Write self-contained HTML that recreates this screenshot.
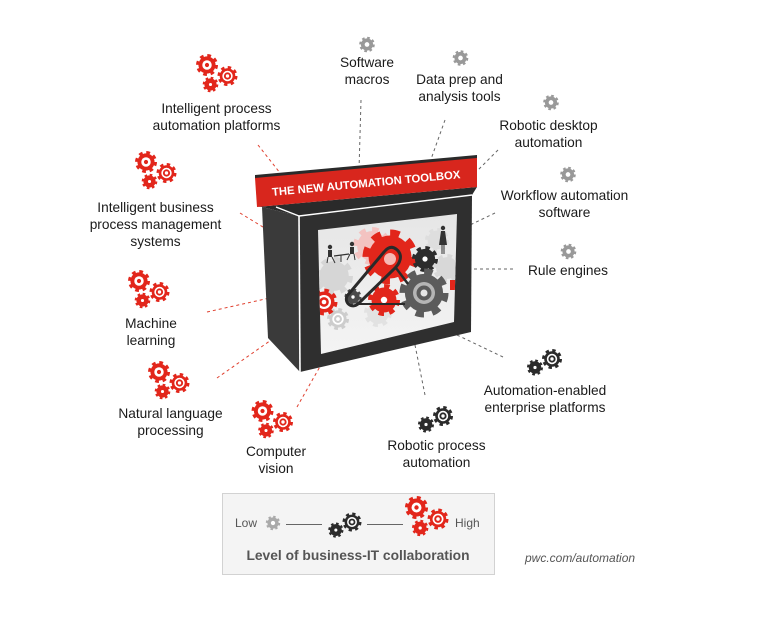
<!DOCTYPE html>
<html><head><meta charset="utf-8"><style>
html,body{margin:0;padding:0;background:#fff;}
#wrap{position:relative;width:758px;height:633px;overflow:hidden;background:#fff;font-family:"Liberation Sans",Arial,sans-serif;}
svg{position:absolute;left:0;top:0;}
.t{position:absolute;width:240px;text-align:center;font-size:13.7px;line-height:17px;color:#1a1a1a;white-space:nowrap;}
.s{position:absolute;font-size:12px;line-height:14px;color:#555;white-space:nowrap;}
</style></head><body><div id="wrap">
<svg width="758" height="633" viewBox="0 0 758 633" xmlns="http://www.w3.org/2000/svg">
<defs>
<g id="gb"><circle r="7.8" fill="currentColor"/><circle r="8.75" fill="none" stroke="currentColor" stroke-width="2.5" stroke-dasharray="3.44 3.43"/></g>
<g id="gDot"><use href="#gb"/><circle r="4.3" fill="#fff"/><circle r="1.9" fill="currentColor"/></g>
<g id="gRing"><use href="#gb"/><circle r="5.2" fill="#fff"/><circle r="3.6" fill="currentColor"/><circle r="1.7" fill="#fff"/></g>
<g id="gSolid"><use href="#gb"/><circle r="2" fill="#fff"/></g>
<g id="gGray"><use href="#gb"/><circle r="3" fill="#fff"/></g>
<g id="redc"><use href="#gDot" transform="scale(1.1)"/><use href="#gRing" transform="translate(20.5,11)"/><use href="#gSolid" transform="translate(3.5,19.5) scale(0.78)"/></g>
<g id="darkp"><use href="#gSolid" transform="translate(-17,8.5) scale(0.8)"/><use href="#gRing"/></g>
<clipPath id="scr"><polygon points="318,230 457,214 454,322 321,354"/></clipPath>
<linearGradient id="sg" x1="0" y1="0" x2="0" y2="1"><stop offset="0" stop-color="#e6e6e6"/><stop offset="1" stop-color="#f4f4f4"/></linearGradient>
</defs>

<!-- connectors red -->
<g stroke="#e0402f" stroke-width="1" stroke-dasharray="3 3" fill="none">
<line x1="258" y1="145" x2="284" y2="178"/>
<line x1="240" y1="213" x2="281" y2="238"/>
<line x1="207" y1="312" x2="283" y2="295"/>
<line x1="217" y1="378" x2="284" y2="331"/>
<line x1="297" y1="407" x2="322" y2="363"/>
</g>
<g stroke="#666" stroke-width="1" stroke-dasharray="3 3" fill="none">
<line x1="361" y1="100" x2="359" y2="170"/>
<line x1="445" y1="120" x2="430" y2="162"/>
<line x1="498" y1="150" x2="478" y2="170"/>
<line x1="495" y1="213" x2="470" y2="225"/>
<line x1="468" y1="269" x2="515" y2="269"/>
<line x1="457" y1="335" x2="503" y2="357"/>
<line x1="415" y1="345" x2="425" y2="395"/>
</g>

<!-- box -->
<polygon points="262,207 299,216 300,372 268,338" fill="#3a3a3a"/>
<polygon points="257,207 477,187 472,195 299,216 262,207" fill="#2a2a2a"/>
<polygon points="299,216 472,195 471,332 300,372" fill="#2f2f2f"/>
<line x1="299" y1="216" x2="300" y2="372" stroke="#fff" stroke-width="1.6"/>
<line x1="276" y1="207" x2="299" y2="216" stroke="#fff" stroke-width="1.4"/>
<line x1="299" y1="216" x2="472" y2="195" stroke="#fff" stroke-width="1.4"/>
<polygon points="318,230 457,214 454,322 321,354" fill="url(#sg)"/>

<!-- screen content -->
<g clip-path="url(#scr)">
<use href="#gb" transform="translate(334,276) scale(1.9)" style="color:#d6d6d6"/>
<use href="#gRing" transform="translate(338,319) scale(1.1)" style="color:#cdcdcd"/>
<use href="#gb" transform="translate(378,313) scale(1.4)" style="color:#e2e2e2"/>
<use href="#gb" transform="translate(447,268) scale(1.4)" style="color:#d8d8d8"/>
<use href="#gb" transform="translate(437,240) scale(1.2)" style="color:#dedede"/>
<use href="#gb" transform="translate(372,246) scale(1.9)" style="color:#f3c3c1"/>
<use href="#gb" transform="translate(390,257) scale(2.75)" style="color:#e2261b"/>
<circle cx="390" cy="259" r="6" fill="#f6b9b5"/>
<use href="#gSolid" transform="translate(425,259) scale(1.3)" style="color:#2c2c2c"/>
<use href="#gb" transform="translate(424,293) scale(2.45)" style="color:#5b5b5b"/>
<circle cx="424" cy="293" r="11" fill="#b5b5b5"/>
<circle cx="424" cy="293" r="7.5" fill="#5b5b5b"/>
<circle cx="424" cy="293" r="3.5" fill="#e6e6e6"/>
<use href="#gSolid" transform="translate(384,300) scale(1.6)" style="color:#e2261b"/>
<use href="#gRing" transform="translate(324,302) scale(1.35)" style="color:#e2261b"/>
<use href="#gSolid" transform="translate(353,297) scale(0.85)" style="color:#4a4a4a"/>
<path d="M396,249 C404,255 400,264 393,270 L358,304 C352,309 344,303 347,296 L384,252 C388,247 392,246 396,249 Z" fill="none" stroke="#2a2a2a" stroke-width="3"/>
<line x1="396" y1="268" x2="408" y2="284" stroke="#2a2a2a" stroke-width="2.5"/>
<line x1="358" y1="304" x2="405" y2="304" stroke="#2a2a2a" stroke-width="2"/>
<!-- people -->
<g fill="#333" stroke="#333">
<circle cx="330" cy="247" r="2.2" stroke="none"/>
<rect x="328" y="250" width="4" height="7" stroke="none"/>
<line x1="328" y1="257" x2="327" y2="263" stroke-width="1"/>
<line x1="332" y1="257" x2="335" y2="263" stroke-width="1"/>
<circle cx="352" cy="244" r="2.2" stroke="none"/>
<rect x="350" y="247" width="4" height="7" stroke="none"/>
<line x1="350" y1="254" x2="347" y2="260" stroke-width="1"/>
<line x1="354" y1="254" x2="355" y2="260" stroke-width="1"/>
<line x1="334" y1="256" x2="349" y2="254" stroke-width="1.2"/>
<line x1="341" y1="255" x2="341" y2="262" stroke-width="1"/>
<circle cx="443" cy="228" r="2.2" stroke="none"/>
<polygon points="441,231 445,231 447,245 439,245" stroke="none"/>
<line x1="442" y1="245" x2="442" y2="254" stroke-width="1"/>
<line x1="444" y1="245" x2="444" y2="254" stroke-width="1"/>
</g>
<rect x="450" y="280" width="6" height="10" fill="#e2261b"/>
</g>

<!-- banner -->
<polygon points="255,175 477,155 477,159 255,179" fill="#2a2a2a"/>
<polygon points="255,178 477,158 477,187 257,207" fill="#d8261d"/>
<text x="366.5" y="187" transform="rotate(-5.4 366.5 187)" text-anchor="middle" font-family="Liberation Sans, Arial, sans-serif" font-weight="bold" font-size="11.3" fill="#fff" textLength="189" lengthAdjust="spacingAndGlyphs">THE NEW AUTOMATION TOOLBOX</text>

<!-- red clusters -->
<g style="color:#e2261b">
<use href="#redc" transform="translate(207,65)"/>
<use href="#redc" transform="translate(146,162)"/>
<use href="#redc" transform="translate(139,281)"/>
<use href="#redc" transform="translate(159,372)"/>
<use href="#redc" transform="translate(262.5,411)"/>
<use href="#redc" transform="translate(416.5,507.5) scale(1.05)"/>
</g>
<!-- gray gears -->
<g style="color:#999">
<use href="#gGray" transform="translate(367,44.5) scale(0.78)"/>
<use href="#gGray" transform="translate(460.5,58) scale(0.78)"/>
<use href="#gGray" transform="translate(551,102.5) scale(0.78)"/>
<use href="#gGray" transform="translate(568,174.5) scale(0.78)"/>
<use href="#gGray" transform="translate(568.5,251.5) scale(0.78)"/>
</g>
<!-- dark pairs -->
<g style="color:#2b2b2b">
<use href="#darkp" transform="translate(552,359)"/>
<use href="#darkp" transform="translate(443,416)"/>
</g>

<!-- legend -->
<rect x="222.5" y="493.5" width="272" height="81" fill="#f4f4f4" stroke="#d2d2d2" stroke-width="1"/>
<use href="#gGray" transform="translate(273,523) scale(0.72)" style="color:#aaa"/>
<use href="#darkp" transform="translate(352,522) scale(0.95)" style="color:#2b2b2b"/>
<use href="#redc" transform="translate(416.5,507.5) scale(1.05)" style="color:#e2261b"/>
<line x1="286" y1="524.5" x2="322" y2="524.5" stroke="#666" stroke-width="1"/>
<line x1="367" y1="524.5" x2="403" y2="524.5" stroke="#666" stroke-width="1"/>
</svg>

<div class="t" style="left:96.5px;top:99.75px;">Intelligent process<br>automation platforms</div>
<div class="t" style="left:35.5px;top:198.75px;">Intelligent business<br>process management<br>systems</div>
<div class="t" style="left:31px;top:314.75px;">Machine<br>learning</div>
<div class="t" style="left:50.5px;top:404.75px;">Natural language<br>processing</div>
<div class="t" style="left:156px;top:442.75px;">Computer<br>vision</div>
<div class="t" style="left:247px;top:53.75px;">Software<br>macros</div>
<div class="t" style="left:339.5px;top:70.75px;">Data prep and<br>analysis tools</div>
<div class="t" style="left:428.5px;top:116.75px;">Robotic desktop<br>automation</div>
<div class="t" style="left:444.5px;top:186.75px;">Workflow automation<br>software</div>
<div class="t" style="left:448px;top:261.75px;">Rule engines</div>
<div class="t" style="left:425px;top:381.75px;">Automation-enabled<br>enterprise platforms</div>
<div class="t" style="left:316.5px;top:436.75px;">Robotic process<br>automation</div>

<div class="s" style="left:235px;top:515.8px;">Low</div>
<div class="s" style="left:455px;top:515.8px;">High</div>
<div class="s" style="left:208px;width:300px;text-align:center;top:548.2px;font-size:13.8px;line-height:16px;font-weight:bold;">Level of business-IT collaboration</div>
<div class="s" style="left:525px;top:550.8px;font-style:italic;color:#555;">pwc.com/automation</div>
</div></body></html>
